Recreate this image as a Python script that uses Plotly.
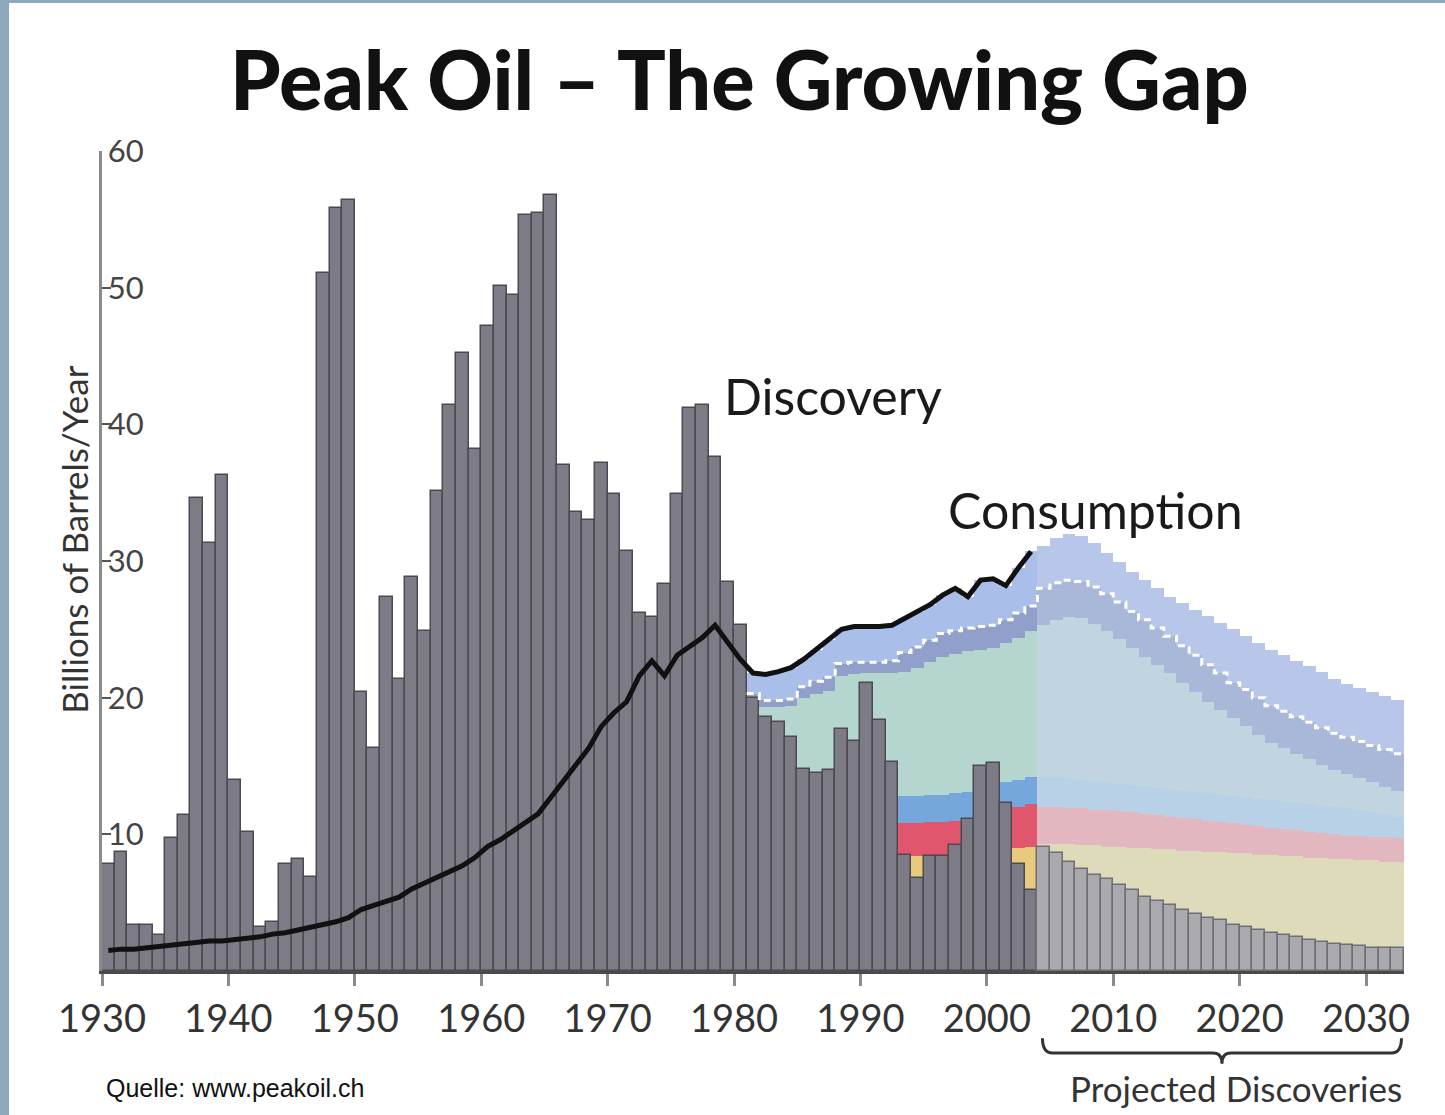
import plotly.graph_objects as go

# ---------------- data ----------------
years_hist = list(range(1930, 2004))
years_proj = list(range(2004, 2033))

discovery_hist = [
    7.8, 8.7, 3.4, 3.4, 2.6, 9.7, 11.4, 34.6, 31.3, 36.3,      # 1930-1939
    14.0, 10.2, 3.2, 3.6, 7.8, 8.2, 6.9, 51.1, 55.8, 56.4,     # 1940-1949
    20.4, 16.3, 27.4, 21.4, 28.8, 24.9, 35.1, 41.4, 45.2, 38.2,  # 1950-1959
    47.2, 50.1, 49.5, 55.3, 55.5, 56.8, 37.0, 33.6, 33.0, 37.2,  # 1960-1969
    34.9, 30.7, 26.2, 25.9, 28.3, 34.9, 41.2, 41.4, 37.6, 28.5,  # 1970-1979
    25.3, 20.0, 18.6, 18.2, 17.1, 14.8, 14.5, 14.7, 17.7, 16.8,  # 1980-1989
    21.1, 18.4, 15.3, 8.5, 6.8, 8.4, 8.4, 9.2, 11.1, 15.0,       # 1990-1999
    15.2, 12.3, 7.8, 5.9,                                         # 2000-2003
]
discovery_proj = [
    9.1, 8.6, 8.0, 7.5, 7.0, 6.7, 6.3, 5.9, 5.4, 5.1,
    4.8, 4.5, 4.2, 3.9, 3.7, 3.4, 3.2, 3.0, 2.8, 2.6,
    2.5, 2.3, 2.1, 2.0, 1.9, 1.8, 1.7, 1.7, 1.7,
]
consumption = [
    1.5, 1.6, 1.6, 1.7, 1.8, 1.9, 2.0, 2.1, 2.2, 2.2,            # 1930s
    2.3, 2.4, 2.5, 2.7, 2.8, 3.0, 3.2, 3.4, 3.6, 3.9,            # 1940s
    4.5, 4.8, 5.1, 5.4, 6.0, 6.4, 6.8, 7.2, 7.7, 8.3,            # 1950s
    9.1, 9.6, 10.2, 10.8, 11.5, 12.7, 13.9, 15.1, 16.3, 17.9,    # 1960s
    18.9, 19.7, 21.6, 22.7, 21.6, 23.1, 23.7, 24.4, 25.3, 24.0,  # 1970s
    22.8, 21.8, 21.7, 21.9, 22.2, 22.8, 23.5, 24.2, 25.0, 25.2,  # 1980s
    25.2, 25.2, 25.3, 25.8, 26.3, 26.8, 27.5, 28.0, 27.4, 28.6,  # 1990s
    28.7, 28.2, 29.5, 30.7,                                       # 2000-2003
]

# stacked gap layers (cumulative tops), 1981-2003
gap_years_past = list(range(1981, 2004))
layer1_past = [7.6, 7.6, 7.7, 7.7, 7.8, 7.8, 7.9, 7.9, 8.0, 8.0, 8.1, 8.2,
               8.3, 8.4, 8.4, 8.5, 8.5, 8.6, 8.7, 8.8, 8.9, 9.0, 9.1]
layer2_past = [10.0, 10.0, 10.1, 10.1, 10.2, 10.2, 10.3, 10.4, 10.5, 10.5, 10.6, 10.7,
               10.8, 10.8, 10.9, 10.9, 11.0, 11.0, 11.3, 11.5, 11.8, 12.0, 12.2]
layer3_past = [12.0, 12.0, 12.1, 12.1, 12.2, 12.2, 12.3, 12.4, 12.5, 12.5, 12.6, 12.7,
               12.8, 12.8, 12.9, 12.9, 13.0, 13.1, 13.3, 13.5, 13.8, 14.0, 14.2]
layer4_past = [19.5, 19.3, 19.3, 19.4, 20.0, 20.3, 20.5, 21.6, 21.7, 21.8, 21.8, 21.8,
               21.9, 22.2, 22.6, 23.0, 23.2, 23.4, 23.5, 23.6, 24.0, 24.4, 24.9]
layer5_past = [20.3, 19.8, 19.8, 19.9, 20.8, 21.2, 21.5, 22.5, 22.6, 22.6, 22.6, 22.7,
               23.3, 23.7, 24.2, 24.7, 24.9, 25.1, 25.2, 25.3, 25.7, 26.2, 26.7]

# stacked gap layers (cumulative tops), 2004-2032
layer1_proj = [9.3, 9.3, 9.3, 9.2, 9.2, 9.1, 9.1, 9.0, 9.0, 8.9, 8.9, 8.8, 8.8, 8.7, 8.7,
               8.6, 8.6, 8.5, 8.5, 8.4, 8.4, 8.3, 8.3, 8.2, 8.2, 8.1, 8.1, 8.0, 8.0]
layer2_proj = [12.0, 12.0, 11.9, 11.9, 11.8, 11.8, 11.7, 11.6, 11.5, 11.4, 11.3, 11.2, 11.1, 11.0, 10.9,
               10.8, 10.7, 10.6, 10.5, 10.4, 10.3, 10.2, 10.1, 10.0, 9.9, 9.9, 9.8, 9.8, 9.7]
layer3_proj = [14.2, 14.2, 14.1, 14.0, 13.9, 13.8, 13.7, 13.6, 13.5, 13.4, 13.3, 13.2, 13.1, 13.0, 12.9,
               12.8, 12.7, 12.6, 12.5, 12.4, 12.3, 12.2, 12.1, 12.0, 11.9, 11.8, 11.6, 11.5, 11.3]
layer4_proj = [25.3, 25.7, 25.9, 25.8, 25.4, 24.9, 24.3, 23.6, 23.0, 22.4, 21.8, 21.1, 20.4, 19.7, 19.1,
               18.5, 17.9, 17.3, 16.7, 16.3, 15.9, 15.5, 15.1, 14.7, 14.4, 14.1, 13.8, 13.5, 13.2]
layer5_proj = [28.0, 28.4, 28.6, 28.5, 28.1, 27.6, 27.0, 26.3, 25.7, 25.1, 24.5, 23.8, 23.1, 22.4, 21.8,
               21.1, 20.6, 20.0, 19.4, 19.0, 18.6, 18.2, 17.8, 17.4, 17.1, 16.8, 16.5, 16.2, 15.9]
consumption_proj = [31.1, 31.7, 32.0, 31.8, 31.3, 30.6, 29.9, 29.2, 28.6, 28.0, 27.4, 26.9, 26.4, 26.0, 25.5,
                    25.0, 24.5, 24.0, 23.5, 23.1, 22.7, 22.3, 21.9, 21.4, 21.0, 20.7, 20.4, 20.1, 19.8]

x_ticks = list(range(1930, 2031, 10))
y_ticks = [10, 20, 30, 40, 50, 60]

# ---------------- styles ----------------
past_colors = ["#e9c97c", "#e0566c", "#75a6dc", "#b5d5cf", "#90a0ca", "#a9bee8"]
proj_colors = ["#dddbb9", "#e2b7bf", "#b9d1e6", "#c0d5df", "#a9b7d9", "#b7c6e9"]
FONT = "Lato"

fig = go.Figure()

cons_past_slice = consumption[years_hist.index(gap_years_past[0]):]
past_layers = [layer1_past, layer2_past, layer3_past, layer4_past, layer5_past, cons_past_slice]
proj_layers = [layer1_proj, layer2_proj, layer3_proj, layer4_proj, layer5_proj, consumption_proj]

# stacked gap layers drawn as touching bars (so discovery bars sit on top of them)
for yrs, layers, cols in [(gap_years_past, past_layers, past_colors),
                          (years_proj, proj_layers, proj_colors)]:
    prev = [0.0] * len(yrs)
    for vals, col in zip(layers, cols):
        fig.add_trace(go.Bar(
            x=[y + 0.5 for y in yrs], y=[t - b for t, b in zip(vals, prev)], base=prev,
            width=1, marker=dict(color=col, line=dict(width=0)), hoverinfo="skip"))
        prev = vals

# discovery bars
fig.add_trace(go.Bar(x=[y + 0.5 for y in years_hist], y=discovery_hist, width=1,
                     marker=dict(color="#7c7b86", line=dict(color="#4b4a53", width=1.5))))
fig.add_trace(go.Bar(x=[y + 0.5 for y in years_proj], y=discovery_proj, width=1,
                     marker=dict(color="#a9a9ae", line=dict(color="#6e6e74", width=1.5))))

# white dashed separator
sep_years = gap_years_past + years_proj
sep_vals = layer5_past + layer5_proj
fig.add_trace(go.Scatter(x=sep_years + [sep_years[-1] + 1], y=sep_vals + [sep_vals[-1]], mode="lines",
                         line=dict(color="white", width=3, shape="hv", dash="7px,5px"),
                         hoverinfo="skip"))

# consumption line
fig.add_trace(go.Scatter(x=[y + 0.5 for y in years_hist], y=consumption, mode="lines",
                         line=dict(color="#111111", width=5), hoverinfo="skip"))

# brace under projected years
bx0 = years_proj[0] + 0.4
bx1 = years_proj[-1] + 0.8
bxm = (bx0 + bx1) / 2
ya, yb, yc = -0.082, -0.100, -0.113
brace = (f"M {bx0},{ya} Q {bx0},{yb} {bx0+0.8},{yb} L {bxm-0.7},{yb} "
         f"Q {bxm},{yb} {bxm},{yc} Q {bxm},{yb} {bxm+0.7},{yb} "
         f"L {bx1-0.8},{yb} Q {bx1},{yb} {bx1},{ya}")

shapes = [
    dict(type="path", xref="x", yref="paper", path=brace,
         line=dict(color="#333333", width=3)),
    dict(type="rect", xref="paper", yref="paper", x0=-0.0790, x1=-0.0714, y0=-0.18, y1=1.19,
         fillcolor="#8fa9bc", line=dict(width=0), layer="above"),
    dict(type="rect", xref="paper", yref="paper", x0=-0.0790, x1=1.04, y0=1.1805, y1=1.19,
         fillcolor="#8fa9bc", line=dict(width=0), layer="above"),
]

annotations = [
    dict(text="Peak Oil – The Growing Gap", xref="paper", yref="paper", x=0.490, y=1.089,
         showarrow=False, xanchor="center", yanchor="middle",
         font=dict(family=FONT, size=81, color="#111111", weight=900)),
    dict(text="Discovery", xref="paper", yref="paper", x=0.476, y=0.701,
         showarrow=False, xanchor="left", yanchor="middle",
         font=dict(family=FONT, size=50, color="#1a1a1a")),
    dict(text="Consumption", xref="paper", yref="paper", x=0.648, y=0.562,
         showarrow=False, xanchor="left", yanchor="middle",
         font=dict(family=FONT, size=50, color="#1a1a1a")),
    dict(text="Projected Discoveries", xref="paper", yref="paper", x=0.871, y=-0.143,
         showarrow=False, xanchor="center", yanchor="middle",
         font=dict(family=FONT, size=35, color="#333333")),
    dict(text="Quelle: www.peakoil.ch", xref="paper", yref="paper", x=0.0015, y=-0.143,
         showarrow=False, xanchor="left", yanchor="middle",
         font=dict(family="Liberation Sans", size=25, color="#111111")),
    dict(text="Billions of Barrels/Year", xref="paper", yref="paper", x=-0.0215, y=0.526,
         showarrow=False, xanchor="center", yanchor="middle", textangle=-90,
         font=dict(family=FONT, size=35, color="#333333")),
]

fig.update_layout(
    width=1445, height=1115,
    margin=dict(l=102, r=41, t=151, b=144),
    paper_bgcolor="white", plot_bgcolor="white",
    showlegend=False, barmode="overlay", bargap=0,
    shapes=shapes, annotations=annotations,
    xaxis=dict(range=[1930, 2033], tickvals=x_ticks, ticks="outside", ticklen=12, tickwidth=3,
               tickcolor="#8a8a8a", showline=True, linecolor="#4a4a4a", linewidth=3,
               showgrid=False, zeroline=False,
               tickfont=dict(family=FONT, size=38, color="#333333")),
    yaxis=dict(range=[0, 60], tickvals=y_ticks, ticks="inside", ticklen=9, tickwidth=2,
               tickcolor="#555555", ticklabelposition="inside", ticklabeloverflow="allow",
               showline=True, linecolor="#8a8a8a", linewidth=3,
               showgrid=False, zeroline=False,
               tickfont=dict(family=FONT, size=31, color="#444444")),
)

fig.write_html("out.html", config={"displayModeBar": False},
               post_script="document.body.style.margin='0px';")
